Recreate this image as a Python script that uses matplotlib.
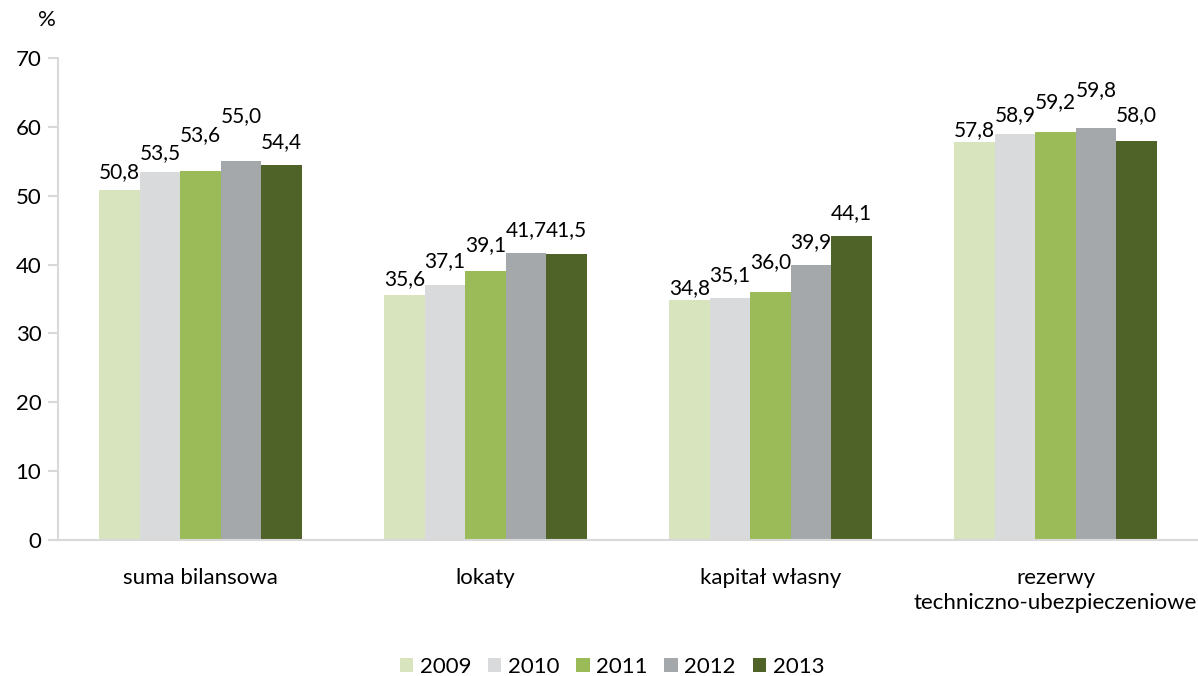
import matplotlib
matplotlib.use("Agg")
import matplotlib.pyplot as plt
import numpy as np

categories = ["suma bilansowa", "lokaty", "kapitał własny", "rezerwy\ntechniczno-ubezpieczeniowe"]
years = ["2009", "2010", "2011", "2012", "2013"]
values = {
    "2009": [50.8, 35.6, 34.8, 57.8],
    "2010": [53.5, 37.1, 35.1, 58.9],
    "2011": [53.6, 39.1, 36.0, 59.2],
    "2012": [55.0, 41.7, 39.9, 59.8],
    "2013": [54.4, 41.5, 44.1, 58.0],
}
colors = ["#d7e4bd", "#d9dadc", "#9bbb59", "#a5a8ab", "#4f6228"]
# vertical label offsets (pixels from bar top to label centre), per year per category
label_offsets_px = {
    "2009": [18, 16, 12, 12],
    "2010": [19, 23, 23, 19],
    "2011": [36, 26, 30, 30],
    "2012": [45, 23, 23, 38],
    "2013": [23, 24, 23, 26],
}

plt.rcParams['font.family'] = ['Lato', 'DejaVu Sans']
fs_lab = 15
fs = 16

fig = plt.figure(figsize=(11.98, 6.76), dpi=100)
ax = fig.add_axes([58/1198, 1 - 540/676, 1140/1198, (540-58)/676])

x = np.arange(len(categories))
bw = 0.1425
for i, y in enumerate(years):
    pos = x + (i - 2) * bw
    bars = ax.bar(pos, values[y], width=bw, color=colors[i], label=y, zorder=2)
    for b, v, off in zip(bars, values[y], label_offsets_px[y]):
        ax.annotate(f"{v:.1f}".replace(".", ","), (b.get_x() + b.get_width()/2, v),
                    xytext=(0, off*0.72), textcoords="offset points",
                    ha="center", va="center", fontsize=fs_lab, color="#000000")

ax.set_xlim(-0.5, 3.5)
ax.set_ylim(0, 70)
ax.set_yticks(range(0, 71, 10))
ax.set_yticklabels([str(t) for t in range(0, 71, 10)], fontsize=fs)
ax.set_xticks(x)
ax.set_xticklabels(categories, fontsize=fs, linespacing=1.3)
ax.tick_params(axis='x', length=0, pad=20)
ax.tick_params(axis='y', length=7, width=1.5, color="#d9d9d9", pad=5)
for s in ["top", "right"]:
    ax.spines[s].set_visible(False)
for s in ["left", "bottom"]:
    ax.spines[s].set_color("#d9d9d9")
    ax.spines[s].set_linewidth(1.5)

fig.text(47/1198, 1 - 20/676, "%", fontsize=fs, ha="center", va="center")

leg = fig.legend(loc="center", bbox_to_anchor=(612/1198, 1 - 667/676), ncol=5, frameon=False,
                 fontsize=fs, handlelength=0.6, handleheight=0.6, handletextpad=0.3,
                 columnspacing=0.75)

fig.savefig("out.png", dpi=100)
